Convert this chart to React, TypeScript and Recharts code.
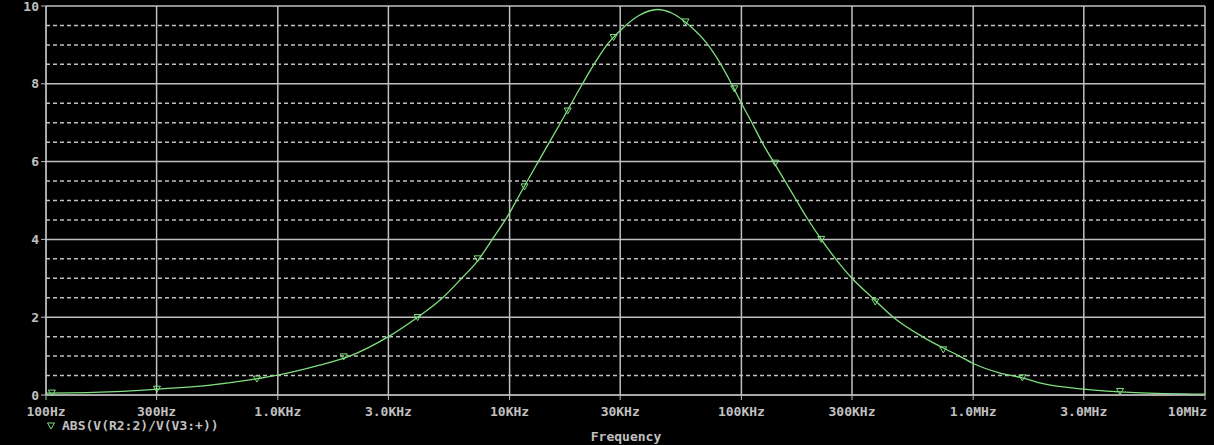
import { ComposedChart, Line, XAxis, YAxis, CartesianGrid, ReferenceLine } from 'recharts';

const freqs = [
  100, 150, 200, 300, 500, 757, 1000, 1500, 2043, 3000, 4010, 5145, 6210, 7280, 8530,
  10000, 10700, 13300, 16600, 20400, 23700, 26700, 31000, 36000, 43500, 50000, 59700,
  70700, 79600, 90600, 100000, 111000, 124000, 139000, 156000, 173000, 192000, 221000,
  259000, 300000, 367000, 452000, 603000, 871000, 1000000, 1295000, 1630000, 2000000,
  3000000, 5000000, 10000000,
];
const gain = [
  0.05, 0.06, 0.085, 0.15, 0.25, 0.39, 0.51, 0.76, 1.0, 1.5, 2.0, 2.5, 3.0, 3.45, 4.05,
  4.68, 5.0, 6.0, 7.0, 7.95, 8.6, 9.05, 9.45, 9.75, 9.91, 9.82, 9.5,
  9.05, 8.6, 8.0, 7.5, 7.0, 6.45, 5.95, 5.45, 5.0, 4.55, 4.0,
  3.45, 3.0, 2.5, 2.0, 1.5, 1.0, 0.81, 0.57, 0.44, 0.29,
  0.15, 0.06, 0.02,
];

// Marcatori a triangolo sulla traccia
const markerFreqs = [
  106, 301, 812, 1925, 4010, 7280, 11600, 17800, 28100, 57400, 93200, 140000, 221000,
  378000, 743000, 1630000, 4300000,
];
const markerGain = [
  0.05, 0.15, 0.41, 0.98, 1.99, 3.5, 5.35, 7.3, 9.19, 9.59, 7.87, 5.96, 4.0,
  2.39, 1.16, 0.44, 0.09,
];

const xTicks = [100, 300, 1000, 3000, 10000, 30000, 100000, 300000, 1000000, 3000000, 10000000];
const xLabels = ['100Hz', '300Hz', '1.0KHz', '3.0KHz', '10KHz', '30KHz', '100KHz', '300KHz', '1.0MHz', '3.0MHz', '10MHz'];
const yTicks = [0, 2, 4, 6, 8, 10];
const yMinor = [0.5, 1, 1.5, 2.5, 3, 3.5, 4.5, 5, 5.5, 6.5, 7, 7.5, 8.5, 9, 9.5];

const traceName = 'ABS(V(R2:2)/V(V3:+))';

const GRID = '#c0c0c0';
const TRACE = '#80e080';
const FONT = '"DejaVu Sans Mono", monospace';

const curve = freqs.map((f, i) => ({ f, v: gain[i] }));
const markers = markerFreqs.map((f, i) => ({ f, v: markerGain[i] }));

function XTick(props: any) {
  const { x, y, payload, index } = props;
  const last = index === xTicks.length - 1;
  const label = xLabels[xTicks.indexOf(payload.value)] ?? '';
  return (
    <text
      x={last ? x + 2 : x}
      y={y + 5}
      dy="0.71em"
      textAnchor={last ? 'end' : 'middle'}
      fill={GRID}
      fontFamily={FONT}
      fontWeight="bold"
      fontSize={13}
    >
      {label}
    </text>
  );
}

function Triangle(props: any) {
  const { cx, cy, index } = props;
  if (cx == null || cy == null) return <g key={index} />;
  return (
    <path
      key={index}
      d={`M${cx - 3.5},${cy - 3} L${cx + 3.5},${cy - 3} L${cx},${cy + 3} Z`}
      fill="none"
      stroke={TRACE}
      strokeWidth={1}
    />
  );
}

export default function App() {
  return (
    <div style={{ position: 'absolute', left: 0, top: 0, width: 1214, height: 445, background: '#000', overflow: 'hidden' }}>
      <ComposedChart width={1214} height={445} margin={{ top: 6, right: 9, left: 0, bottom: 30 }}>
        <CartesianGrid stroke={GRID} strokeWidth={1.5} />
        {yMinor.map((v) => (
          <ReferenceLine key={v} y={v} stroke={GRID} strokeDasharray="4 3" strokeWidth={1.5} />
        ))}
        <XAxis
          dataKey="f"
          type="number"
          scale="log"
          domain={[100, 10000000]}
          ticks={xTicks}
          interval={0}
          allowDataOverflow
          height={20}
          tickSize={5}
          stroke={GRID}
          tick={<XTick />}
        />
        <YAxis
          type="number"
          domain={[0, 10]}
          ticks={yTicks}
          interval={0}
          width={46}
          tickSize={5}
          tickMargin={2}
          stroke={GRID}
          tick={{ fill: GRID, fontFamily: FONT, fontWeight: 'bold', fontSize: 13 }}
        />
        <Line
          data={curve}
          dataKey="v"
          type="monotone"
          stroke={TRACE}
          strokeWidth={1.3}
          dot={false}
          isAnimationActive={false}
        />
        <Line
          data={markers}
          dataKey="v"
          stroke="none"
          dot={<Triangle />}
          isAnimationActive={false}
        />
      </ComposedChart>
      <svg width={1214} height={445} style={{ position: 'absolute', left: 0, top: 0, pointerEvents: 'none' }}>
        <path d="M47.5,423 L54.5,423 L51,429 Z" fill="none" stroke={TRACE} strokeWidth={1} />
        <text x={62} y={430} fill={GRID} fontFamily={FONT} fontWeight="bold" fontSize={13}>
          {traceName}
        </text>
        <text x={626} y={441} textAnchor="middle" fill={GRID} fontFamily={FONT} fontWeight="bold" fontSize={13}>
          Frequency
        </text>
      </svg>
    </div>
  );
}
